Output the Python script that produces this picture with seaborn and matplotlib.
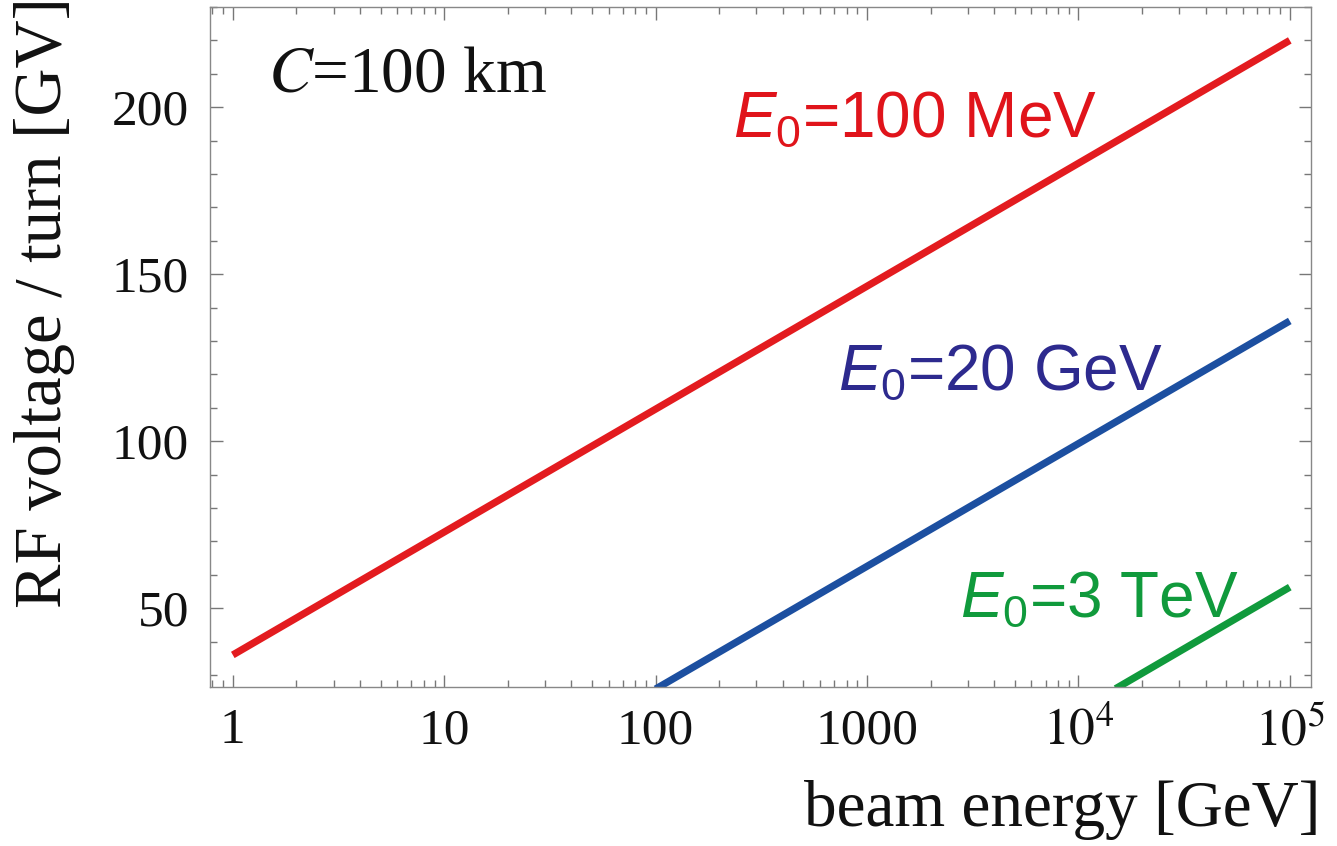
import numpy as np
import pandas as pd
import matplotlib
matplotlib.use("Agg")
import matplotlib.pyplot as plt
import seaborn as sns

# ---- data ----
e_100mev = [1.0, 1.0e5]          # beam energy [GeV]
v_100mev = [36.0, 220.0]         # RF voltage / turn [GV]
e_20gev = [100.0, 1.0e5]
v_20gev = [25.8, 136.0]
e_3tev = [1.5e4, 1.0e5]
v_3tev = [25.9, 56.3]

series_labels = [r"$E_0$=100 MeV", r"$E_0$=20 GeV", r"$E_0$=3 TeV"]
xticks = [1, 10, 100, 1000, 1e4, 1e5]
xticklabels = ["1", "10", "100", "1000", r"$10^4$", r"$10^5$"]
yticks = [50, 100, 150, 200]
yticklabels = ["50", "100", "150", "200"]

sns.set_theme(style="ticks")
plt.rcParams["font.family"] = ["Liberation Serif", "DejaVu Serif"]
plt.rcParams["mathtext.fontset"] = "stix"
plt.rcParams["mathtext.rm"] = "Liberation Sans"
plt.rcParams["mathtext.it"] = "Liberation Sans:italic"

df = pd.concat([
    pd.DataFrame({"E": e_100mev, "V": v_100mev, "s": series_labels[0]}),
    pd.DataFrame({"E": e_20gev, "V": v_20gev, "s": series_labels[1]}),
    pd.DataFrame({"E": e_3tev, "V": v_3tev, "s": series_labels[2]}),
])

line_colors = {series_labels[0]: "#E31B1F", series_labels[1]: "#1C4FA0", series_labels[2]: "#109A3C"}
text_colors = ["#E0141B", "#2D2A8E", "#109A3C"]

fig = plt.figure(figsize=(13.37, 8.46), dpi=100)
ax = fig.add_axes([210 / 1337, 1 - 687 / 846, 1101 / 1337, 680 / 846])

sns.lineplot(data=df, x="E", y="V", hue="s", palette=line_colors, lw=5.2,
             legend=False, ax=ax, solid_capstyle="butt")

ax.set_xscale("log")
ax.set_xlim(0.78, 1.26e5)
ax.set_ylim(26.4, 230)

ax.set_xticks(xticks)
ax.set_xticklabels(xticklabels)
ax.set_yticks(yticks)
ax.set_yticklabels(yticklabels)
ax.xaxis.set_minor_locator(matplotlib.ticker.LogLocator(base=10, subs=np.arange(2, 10)))
ax.xaxis.set_minor_formatter(matplotlib.ticker.NullFormatter())
ax.yaxis.set_minor_locator(matplotlib.ticker.MultipleLocator(10))

ax.tick_params(which="both", direction="in", top=True, right=True, color="#777777", width=1.0)
ax.tick_params(which="major", length=9, labelsize=37, labelcolor="#111111")
ax.tick_params(which="minor", length=5)
ax.tick_params(axis="y", which="major", pad=15)
ax.tick_params(axis="x", which="major", pad=15)
for lab in ax.get_xticklabels():
    lab.set_fontproperties(matplotlib.font_manager.FontProperties(
        family="Liberation Serif", size=37, math_fontfamily="stix"))

for sp in ax.spines.values():
    sp.set_color("#888888")
    sp.set_linewidth(1.0)

ax.set_xlabel("beam energy [GeV]", fontsize=47, color="#111111", ha="right", va="baseline")
ax.xaxis.set_label_coords((1320 - 210) / 1101, (687 - 826) / 680)
ax.set_ylabel("RF voltage / turn [GV]", fontsize=48, color="#111111", va="center")
ax.yaxis.set_label_coords((45 - 210) / 1101, (687 - 303) / 680)

ax.text((268 - 210) / 1101, (687 - 92) / 680, r"$C$=100 km", transform=ax.transAxes,
        color="#111111", va="baseline", ha="left",
        fontproperties=matplotlib.font_manager.FontProperties(
            family="Liberation Serif", size=47, math_fontfamily="stix"))

label_pos = [((733 - 210) / 1101, (687 - 137) / 680),
             ((838 - 210) / 1101, (687 - 390) / 680),
             ((960 - 210) / 1101, (687 - 617) / 680)]
for lab, (px, py), c in zip(series_labels, label_pos, text_colors):
    ax.text(px, py, lab, transform=ax.transAxes, color=c, ha="left", va="baseline",
            fontproperties=matplotlib.font_manager.FontProperties(
                family="Liberation Sans", size=46, math_fontfamily="custom"))

fig.savefig("out.png", dpi=100)
